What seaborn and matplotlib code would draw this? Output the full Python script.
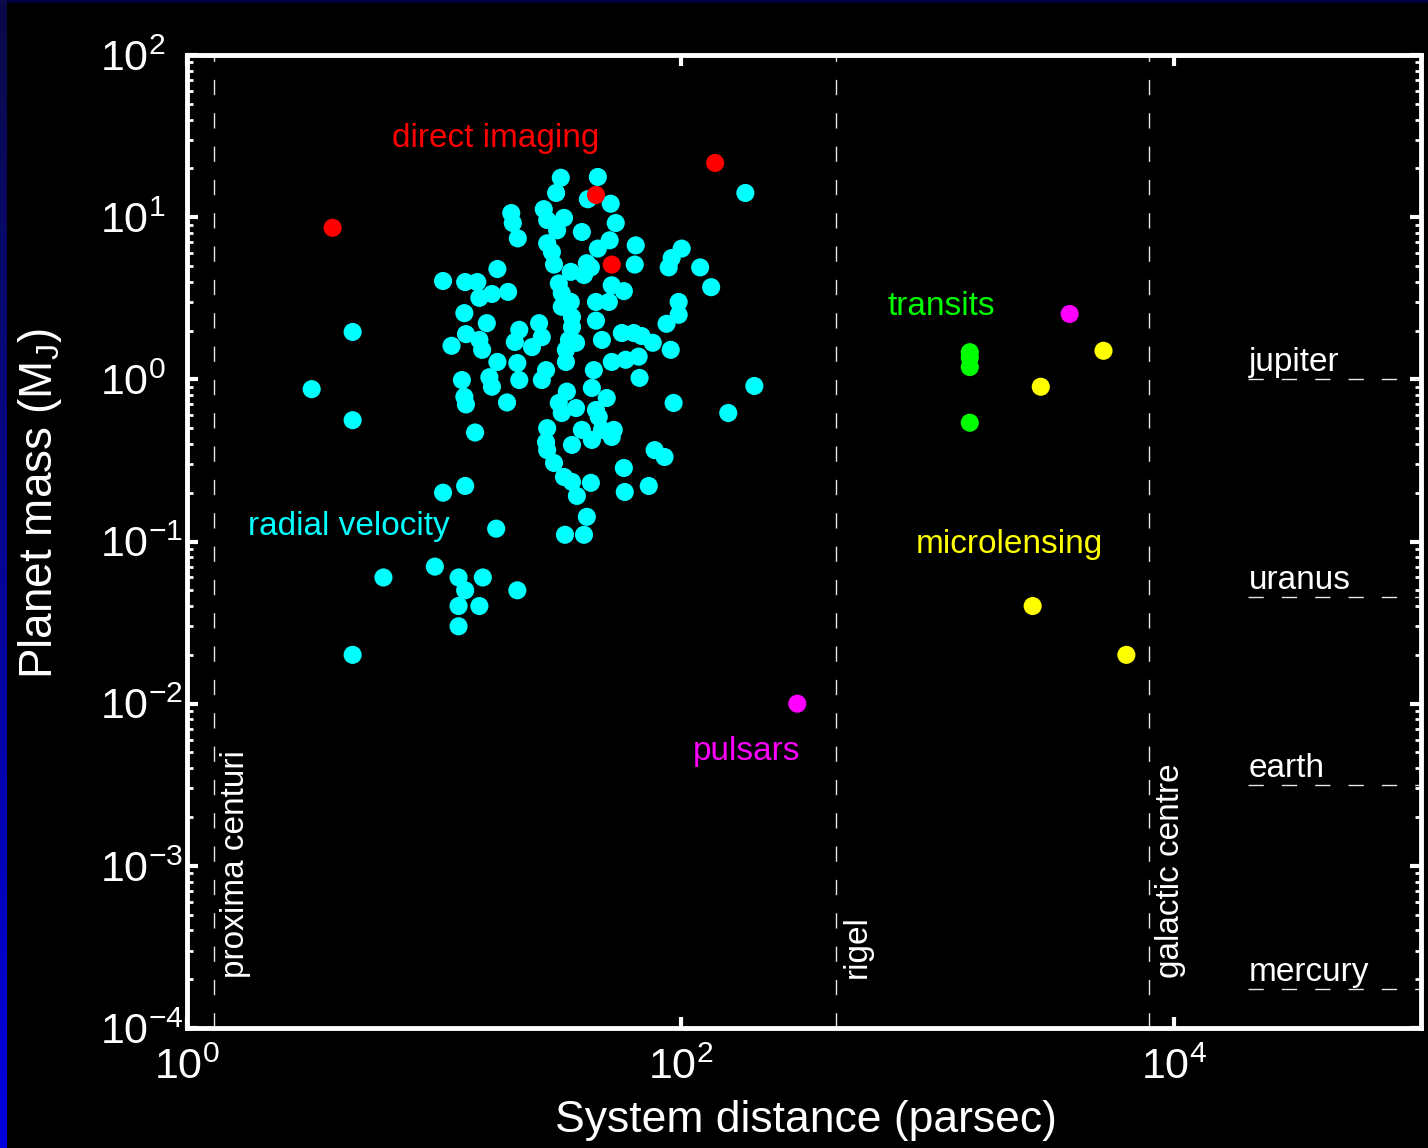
import numpy as np
import pandas as pd
import matplotlib
matplotlib.use("Agg")
import matplotlib.pyplot as plt
from matplotlib.colors import LinearSegmentedColormap
from matplotlib.patches import Rectangle
from matplotlib.ticker import FixedLocator, NullLocator, LogLocator, LogFormatterSciNotation
import seaborn as sns

# ---- known exoplanets: system distance (parsec) and planet mass (Jupiter masses) ----
rv_distance = [
    3.20, 4.69, 4.69, 4.69, 6.25, 10.1, 12.6, 13.4, 15.8, 12.6,
    15.3, 12.6, 21.8, 10.9, 13.4, 17.9, 14.7, 13.3, 13.5, 19.8,
    13.0, 17.2, 16.8, 22.2, 18.1, 21.8, 11.8, 15.7, 21.3, 22.2,
    13.5, 15.3, 16.4, 13.3, 15.3, 17.2, 20.0, 10.9, 13.4, 15.0,
    18.1, 20.6, 20.9, 21.9, 27.9, 28.8, 31.6, 33.7, 32.7, 31.3,
    46.2, 42.1, 52.1, 54.6, 39.8, 28.8, 30.1, 51.6, 46.2, 65.8,
    65.2, 101, 92.0, 89.5, 120, 133, 183, 30.7, 35.9, 41.7,
    40.6, 32.1, 33.0, 33.0, 35.9, 52.6, 58.9, 45.4, 51.2, 45.4,
    98.2, 98.2, 87.7, 57.8, 64.6, 69.5, 77.1, 91.2, 48.0, 36.3,
    35.3, 34.3, 34.3, 26.7, 27.4, 25.0, 52.6, 59.9, 67.6, 68.2,
    44.5, 28.5, 27.4, 199, 34.6, 93.7, 32.1, 33.0, 37.7, 43.7,
    50.2, 45.4, 46.6, 39.8, 36.3, 43.7, 48.0, 53.6, 28.8, 28.5,
    28.8, 30.7, 33.7, 36.3, 38.0, 43.3, 41.7, 40.6, 34.0, 78.5,
    86.1, 58.9, 59.4, 74.3, 156, 52.6, 36.3, 37.7, 43.3,
]
rv_mass = [
    0.87, 1.96, 0.56, 0.020, 0.060, 0.070, 0.060, 0.050, 0.060, 0.040,
    0.040, 0.030, 0.050, 0.20, 0.22, 0.12, 0.47, 0.78, 0.70, 0.72,
    0.99, 0.90, 1.03, 0.99, 1.28, 1.26, 1.61, 1.52, 1.70, 2.02,
    1.90, 1.75, 2.22, 2.56, 3.18, 3.36, 3.46, 4.04, 3.98, 3.98,
    4.79, 10.6, 9.2, 7.4, 11.2, 9.6, 8.3, 9.9, 17.5, 14.1,
    17.7, 12.9, 12.1, 9.2, 8.1, 6.9, 6.1, 7.2, 6.4, 6.7,
    5.1, 6.4, 5.6, 4.9, 4.9, 3.7, 14.1, 5.1, 4.6, 5.2,
    4.4, 3.9, 3.4, 2.8, 3.0, 3.8, 3.5, 3.0, 3.0, 2.3,
    3.0, 2.5, 2.2, 1.93, 1.93, 1.85, 1.68, 1.52, 1.75, 2.10,
    1.75, 1.52, 1.28, 2.22, 1.82, 1.58, 1.28, 1.32, 1.38, 1.02,
    1.14, 1.14, 0.99, 0.91, 0.84, 0.715, 0.715, 0.62, 0.665, 0.885,
    0.767, 0.647, 0.586, 0.488, 0.394, 0.423, 0.488, 0.488, 0.50, 0.41,
    0.366, 0.305, 0.25, 0.233, 0.191, 0.230, 0.142, 0.110, 0.110, 0.366,
    0.332, 0.284, 0.202, 0.22, 0.62, 0.441, 2.42, 1.68, 4.9,
]
imaging_distance = [3.89, 45.4, 52.6, 138]
imaging_mass = [8.6, 13.7, 5.1, 21.6]
transit_distance = [1485, 1485, 1485, 1485]
transit_mass = [1.47, 1.36, 1.19, 0.54]
pulsar_distance = [297, 3770]
pulsar_mass = [0.010, 2.53]
microlens_distance = [5170, 2880, 2670, 6400]
microlens_mass = [1.50, 0.90, 0.040, 0.020]

methods = ["radial velocity", "direct imaging", "transits", "pulsars", "microlensing"]
method_colors = ["#00ffff", "#ff0000", "#00ff00", "#ff00ff", "#ffff00"]
method_label_x = [1.76, 6.80, 692, 112, 899]
method_label_y = [0.110, 27.1, 2.49, 0.0045, 0.0849]

landmark_names = ["proxima centuri", "rigel", "galactic centre"]
landmark_distance = [1.29, 427, 7930]
planet_names = ["jupiter", "uranus", "earth", "mercury"]
planet_mass = [1.0, 0.0457, 0.00315, 0.000174]
planet_line_start = 2.0e4

groups = [
    (rv_distance, rv_mass),
    (imaging_distance, imaging_mass),
    (transit_distance, transit_mass),
    (pulsar_distance, pulsar_mass),
    (microlens_distance, microlens_mass),
]
df = pd.concat(
    [pd.DataFrame({"distance": d, "mass": m, "method": name})
     for name, (d, m) in zip(methods, groups)],
    ignore_index=True,
)

# ---- style ----
sns.set_theme(style="ticks")
plt.rcParams.update({
    "font.family": ["Liberation Sans", "DejaVu Sans"],
    "mathtext.fontset": "custom",
    "mathtext.rm": "Liberation Sans",
    "mathtext.it": "Liberation Sans:italic",
    "mathtext.bf": "Liberation Sans:bold",
    "mathtext.default": "regular",
    "figure.facecolor": "black",
    "axes.facecolor": "black",
    "axes.edgecolor": "white",
    "text.color": "white",
    "axes.labelcolor": "white",
    "xtick.color": "white",
    "ytick.color": "white",
})

W, H = 1428, 1148
fig = plt.figure(figsize=(W / 100, H / 100), dpi=100)

# slide-style edge: navy band on top, blue gradient down the left side
fig.patches.append(Rectangle((0, 1 - 3 / H), 1, 3 / H, transform=fig.transFigure,
                             facecolor="#000040", edgecolor="none", zorder=0))
edge_cmap = LinearSegmentedColormap.from_list("edge", ["#0a0a48", "#0000e0"])
edge_rgba = edge_cmap(np.linspace(0, 1, H))[:, None, :].repeat(7, axis=1)
fig.figimage(edge_rgba, xo=0, yo=0, origin="upper", zorder=0)

ax = fig.add_axes([187 / W, 1 - 1028 / H, 1234 / W, 973 / H])
ax.set_xscale("log")
ax.set_yscale("log")
ax.set_xlim(1, 1e5)
ax.set_ylim(1e-4, 1e2)

dash = (0, (11, 13))
for d in landmark_distance:
    ax.axvline(d, color="#e6e6e6", lw=1.0, ls=dash, zorder=1)
for m in planet_mass:
    ax.plot([planet_line_start, 1e5], [m, m], color="#e6e6e6", lw=1.0, ls=dash, zorder=1)

sns.scatterplot(data=df, x="distance", y="mass", hue="method",
                hue_order=methods, palette=dict(zip(methods, method_colors)),
                s=170, linewidth=0, legend=False, ax=ax, zorder=3)

# annotations
for name, d in zip(landmark_names, landmark_distance):
    ax.text(d * 1.32, 2.03e-4, name, rotation=90, rotation_mode="anchor",
            ha="left", va="baseline", fontsize=24, color="white")
for name, m in zip(planet_names, planet_mass):
    ax.text(planet_line_start, m * 1.12, name, ha="left", va="baseline",
            fontsize=24, color="white")
for name, col, tx, ty in zip(methods, method_colors, method_label_x, method_label_y):
    ax.text(tx, ty, name, ha="left", va="baseline", fontsize=24, color=col)

# axes, ticks and labels
ax.xaxis.set_major_locator(FixedLocator([1, 1e2, 1e4]))
ax.xaxis.set_minor_locator(NullLocator())
ax.xaxis.set_major_formatter(LogFormatterSciNotation())
ax.yaxis.set_major_locator(LogLocator(base=10, numticks=20))
ax.yaxis.set_minor_locator(LogLocator(base=10, subs=np.arange(2, 10), numticks=20))
ax.yaxis.set_major_formatter(LogFormatterSciNotation())

ax.tick_params(which="both", direction="in", top=True, right=True,
               colors="white", labelsize=31)
ax.tick_params(which="major", length=8, width=3)
ax.tick_params(which="minor", length=4, width=2)
ax.tick_params(axis="y", which="major", pad=62.5)
ax.tick_params(axis="x", which="major", pad=14)
for sp in ax.spines.values():
    sp.set_linewidth(3.5)
    sp.set_color("white")
    sp.set_visible(True)

ax.set_xlabel("System distance (parsec)", fontsize=32, color="white")
ax.set_ylabel("Planet mass (M$_{J}$)", fontsize=33, color="white")
ax.xaxis.set_label_coords(0.5016, -0.074)
ax.yaxis.set_label_coords(-0.10, 0.539)

# mantissas line up on the left, exponents trail to the right
for lbl in ax.get_yticklabels():
    lbl.set_horizontalalignment("left")

fig.savefig("out.png", dpi=100, facecolor="black")
